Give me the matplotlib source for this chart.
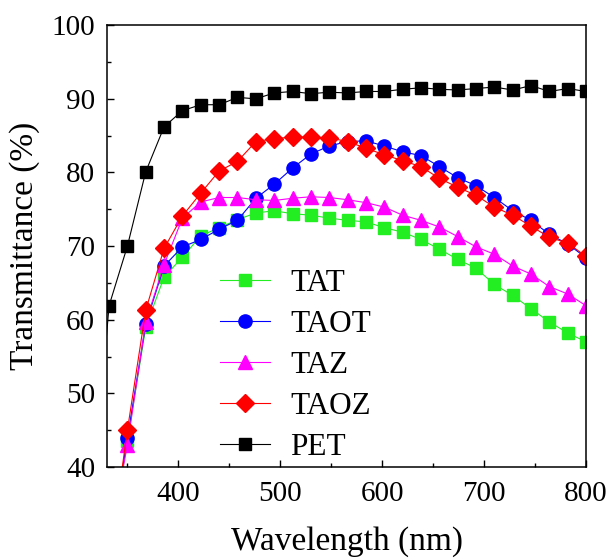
#!/usr/bin/env python3

import matplotlib
matplotlib.use("Agg")
import matplotlib.pyplot as plt
from matplotlib.ticker import MultipleLocator

# marker wavelengths (nm), one every ~18 nm
wl_pet = [332, 350, 368, 386, 404, 422, 440, 458, 476, 494, 512, 530, 548, 566,
          584, 602, 620, 638, 656, 674, 692, 710, 728, 746, 764, 782, 800]
wl = wl_pet[1:]

pet = [61.9, 70.0, 80.1, 86.2, 88.4, 89.2, 89.2, 90.2, 90.0, 90.8, 91.0, 90.7, 90.9, 90.8,
       91.0, 91.0, 91.3, 91.5, 91.3, 91.2, 91.4, 91.6, 91.2, 91.8, 91.0, 91.4, 91.0]
tat = [43.5, 59.0, 65.8, 68.5, 71.4, 72.5, 73.6, 74.5, 74.8, 74.4, 74.2, 73.8, 73.5,
       73.3, 72.5, 71.9, 70.9, 69.6, 68.2, 67.0, 64.8, 63.3, 61.5, 59.7, 58.2, 57.0]
taot = [43.9, 59.4, 67.3, 69.9, 70.9, 72.3, 73.5, 76.5, 78.4, 80.6, 82.5, 83.6, 84.2,
        84.3, 83.6, 82.8, 82.3, 80.8, 79.3, 78.2, 76.6, 74.8, 73.5, 71.6, 70.3, 68.4]
taz = [43.0, 59.7, 67.5, 73.8, 76.0, 76.6, 76.6, 76.3, 76.2, 76.5, 76.7, 76.6, 76.3,
       75.9, 75.3, 74.2, 73.5, 72.6, 71.3, 69.9, 68.9, 67.3, 66.2, 64.5, 63.5, 61.9]
taoz = [45.0, 61.3, 69.7, 74.1, 77.2, 80.2, 81.5, 84.2, 84.6, 84.8, 84.8, 84.7, 84.2,
        83.3, 82.4, 81.6, 80.8, 79.2, 78.0, 76.9, 75.3, 74.2, 72.7, 71.2, 70.4, 68.6]

# where the thin curves leave the plot on the left
edge_wl = 342
edge_val = 37.0
pet_edge_wl = 329
pet_edge_val = 57.0


def prepare_ax(ax):
    ax.set_xlim(330, 800)
    ax.set_ylim(40, 100)
    ax.xaxis.set_major_locator(MultipleLocator(100))
    ax.xaxis.set_minor_locator(MultipleLocator(50))
    ax.yaxis.set_major_locator(MultipleLocator(10))
    ax.yaxis.set_minor_locator(MultipleLocator(5))
    ax.tick_params(which='both', direction='in', top=False, right=False,
                   width=1.0, labelsize=21)
    ax.tick_params(which='major', length=5)
    ax.tick_params(which='minor', length=3)
    ax.tick_params(axis='x', which='both', pad=10)
    ax.tick_params(axis='y', which='both', pad=8.5)
    for s in ax.spines.values():
        s.set_linewidth(1.1)


def main():
    plt.rcParams['font.family'] = ['Liberation Serif', 'DejaVu Serif']

    fig = plt.figure(figsize=(6.15, 5.6), dpi=100)
    ax = fig.add_axes([0.174, 0.166, 0.779, 0.789])
    prepare_ax(ax)

    series = [
        ("TAT", tat, '#22ee22', 's', 8.5),
        ("TAOT", taot, '#0000ff', 'o', 9.5),
        ("TAZ", taz, '#ff00ff', '^', 10),
        ("TAOZ", taoz, '#ff0000', 'D', 9),
    ]
    for name, vals, col, mk, ms in series:
        ax.plot([edge_wl] + wl, [edge_val] + vals, color=col, lw=0.8,
                marker=mk, ms=ms, markevery=list(range(1, len(wl) + 1)),
                label=name)
    ax.plot([pet_edge_wl] + wl_pet, [pet_edge_val] + pet, color='black', lw=0.8,
            marker='s', ms=8.5, markevery=list(range(1, len(wl_pet) + 1)),
            label="PET")

    ax.set_xlabel("Wavelength (nm)", fontsize=24, labelpad=14)
    ax.set_ylabel("Transmittance (%)", fontsize=24, labelpad=8)

    ax.legend(loc='upper left', bbox_to_anchor=(0.236, 0.448), frameon=False,
              fontsize=22.5, handlelength=1.6, handletextpad=0.65,
              labelspacing=0.38, borderaxespad=0, borderpad=0)

    fig.savefig("out.png", dpi=100)


if __name__ == "__main__":
    main()
